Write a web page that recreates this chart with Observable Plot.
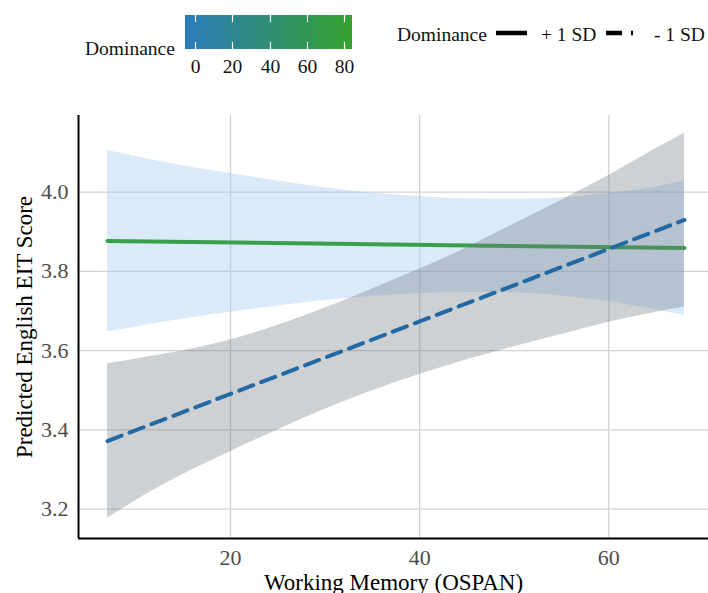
<!DOCTYPE html>
<html>
<head>
<meta charset="utf-8">
<script src="https://cdn.jsdelivr.net/npm/d3@7"></script>
<script src="https://cdn.jsdelivr.net/npm/@observablehq/plot@0.6"></script>
<style>
  body { margin: 0; background: #fff; font-family: "Liberation Serif", "Times New Roman", serif; }
  #wrap { position: relative; width: 708px; height: 593px; overflow: hidden; background: #fff; }
  #chart { position: absolute; left: 0; top: 0; }
  .lt { position: absolute; font-size: 19.5px; color: #111; white-space: pre; line-height: 1; }
  #ramp { position: absolute; left: 175px; top: 15px; }
  #keys { position: absolute; left: 0; top: 0; }
</style>
</head>
<body>
<div id="wrap">
  <div id="chart"></div>
  <div class="lt" id="cbTitle" style="left:85px; top:39px;">Dominance</div>
  <div id="ramp"></div>
  <div class="lt" style="left:397px; top:25px;">Dominance</div>
  <svg id="keys" width="708" height="60"></svg>
  <div class="lt" id="labHi" style="left:541px; top:25px;"></div>
  <div class="lt" id="labLo" style="left:654px; top:25px;"></div>
</div>
<script>
// ---- data ----
const ospan   = [7, 10, 15, 20, 25, 30, 35, 40, 45, 50, 55, 60, 65, 68];
// +1 SD Dominance: confidence band
const hiLower = [3.647, 3.660, 3.680, 3.697, 3.713, 3.727, 3.737, 3.744, 3.747, 3.746, 3.738, 3.724, 3.703, 3.689];
const hiUpper = [4.105, 4.090, 4.066, 4.047, 4.028, 4.011, 3.998, 3.989, 3.983, 3.982, 3.986, 3.997, 4.013, 4.029];
// -1 SD Dominance: confidence band
const loLower = [3.177, 3.222, 3.288, 3.345, 3.400, 3.452, 3.499, 3.540, 3.577, 3.610, 3.641, 3.672, 3.697, 3.710];
const loUpper = [3.567, 3.579, 3.600, 3.627, 3.664, 3.708, 3.756, 3.806, 3.860, 3.920, 3.980, 4.042, 4.110, 4.149];
// fitted lines
const fitX   = [7, 68];
const hiFit  = [3.877, 3.859];
const loFit  = [3.372, 3.930];
const levels = ["+ 1 SD", "- 1 SD"];
const dominanceTicks = [0, 20, 40, 60, 80];
const dominanceDomain = [-5.4, 84.3];
const xTicks = [20, 40, 60];
const yTicks = [3.2, 3.4, 3.6, 3.8, 4.0];
const xTitle = "Working Memory (OSPAN)";
const yTitle = "Predicted English EIT Score";

// ---- tables ----
const hiBand = ospan.map((x, i) => ({x, lo: hiLower[i], hi: hiUpper[i]}));
const loBand = ospan.map((x, i) => ({x, lo: loLower[i], hi: loUpper[i]}));
const hiLine = fitX.map((x, i) => ({x, y: hiFit[i]}));
const loLine = fitX.map((x, i) => ({x, y: loFit[i]}));

const xDomain = [3.93, 70.54];
const yDomain = [3.126, 4.1936];
const font = "Liberation Serif, Times New Roman, serif";
const gridStyle = {stroke: "#d2d2d2", strokeOpacity: 1, strokeWidth: 1.3};

const chart = Plot.plot({
  width: 708,
  height: 593,
  marginLeft: 78,
  marginRight: 0,
  marginTop: 115,
  marginBottom: 55,
  style: {fontFamily: font, background: "white", overflow: "visible"},
  x: {domain: xDomain},
  y: {domain: yDomain},
  marks: [
    Plot.gridX(xTicks, gridStyle),
    Plot.gridY(yTicks, gridStyle),
    Plot.areaY(hiBand, {x: "x", y1: "lo", y2: "hi", curve: "monotone-x", fill: "#a3cbf1", fillOpacity: 0.4}),
    Plot.line(hiLine, {x: "x", y: "y", stroke: "#37a049", strokeWidth: 4}),
    Plot.areaY(loBand, {x: "x", y1: "lo", y2: "hi", curve: "monotone-x", fill: "#6f7882", fillOpacity: 0.34}),
    Plot.line(loLine, {x: "x", y: "y", stroke: "#2369a4", strokeWidth: 4, strokeDasharray: "15,8.5"}),
    Plot.ruleX([xDomain[0]], {stroke: "black", strokeWidth: 2}),
    Plot.ruleY([yDomain[0]], {stroke: "black", strokeWidth: 2}),
    Plot.axisX(xTicks, {tickSize: 0, tickPadding: 11, fontSize: 22, color: "#4d4d4d", label: null}),
    Plot.axisY(yTicks, {tickSize: 0, tickPadding: 10, fontSize: 22, color: "#4d4d4d", label: null, tickFormat: d3.format(".1f")}),
    Plot.text([xTitle], {frameAnchor: "bottom", dy: 51, fontSize: 23, fill: "black"}),
    Plot.text([yTitle], {frameAnchor: "left", dx: -54, rotate: -90, textAnchor: "middle", fontSize: 23, fill: "black"})
  ]
});
document.getElementById("chart").appendChild(chart);

// ---- colour bar legend ----
const ramp = Plot.legend({
  color: {type: "linear", domain: dominanceDomain, range: ["#2b7bba", "#35a12e"]},
  ticks: dominanceTicks,
  tickSize: 7,
  width: 187,
  height: 64,
  marginLeft: 10,
  marginRight: 10,
  marginTop: 0,
  marginBottom: 30,
  label: null,
  style: {fontFamily: font, fontSize: "19.5px", color: "#111", overflow: "visible", background: "transparent"}
});
document.getElementById("ramp").appendChild(ramp);
d3.select(ramp).selectAll(".tick line")
  .attr("stroke", "white").attr("stroke-width", 1.2).attr("stroke-dasharray", "7,20,7,40");
d3.select(ramp).selectAll(".tick text").attr("fill", "#111");

// ---- linetype legend ----
document.getElementById("labHi").textContent = levels[0];
document.getElementById("labLo").textContent = levels[1];
const keys = d3.select("#keys");
keys.append("line").attr("x1", 496).attr("x2", 527).attr("y1", 33).attr("y2", 33)
  .attr("stroke", "black").attr("stroke-width", 4.5);
keys.append("line").attr("x1", 606).attr("x2", 633).attr("y1", 33).attr("y2", 33)
  .attr("stroke", "black").attr("stroke-width", 4.5).attr("stroke-dasharray", "16,9");
</script>
</body>
</html>
